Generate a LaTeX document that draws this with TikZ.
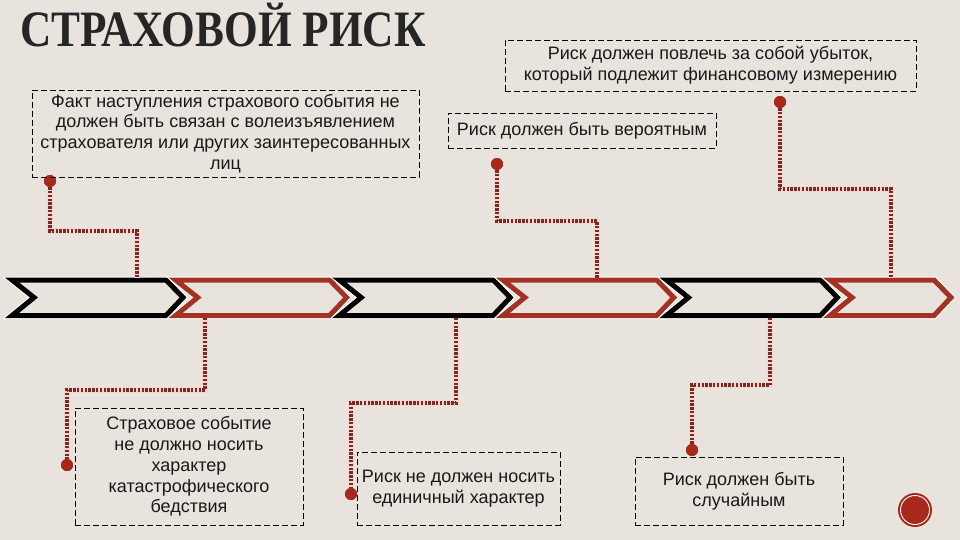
\documentclass[tikz,border=0pt]{standalone}
\usepackage{fontspec}
\setmainfont{Liberation Sans}
\newfontfamily\titlefont{Liberation Serif}
\usetikzlibrary{positioning}

\definecolor{paper}{RGB}{232,228,221}
\definecolor{arrowred}{RGB}{163,50,36}
\definecolor{pinred}{RGB}{168,40,28}
\definecolor{linkred}{RGB}{122,42,36}
\definecolor{halo}{RGB}{244,216,208}

\begin{document}
\begin{tikzpicture}[x=1pt, y=-1pt,
    note/.style={draw=black, line width=0.7pt, dash pattern=on 6pt off 3pt,
      align=center, inner sep=0pt, text=black!90,
      font=\fontsize{18}{20.8}\selectfont},
    pin/.style={circle, fill=pinred, inner sep=0pt, minimum size=12pt},
    link/.style={draw=linkred, line width=3.2pt, dash pattern=on 2.4pt off 1.4pt,
      preaction={draw=halo, line width=5.5pt, solid}},
    chev/.style={fill=paper, line width=5pt, line join=miter,
      preaction={draw=white, line width=7pt}}]

    \fill[paper] (0,0) rectangle (960,540);
    \useasboundingbox (0,0) rectangle (960,540);

    % title
    \node[anchor=base west, inner sep=0pt, text=black!85,
      font=\titlefont\bfseries\fontsize{51}{51}\selectfont] (title) at (20,47)
      {\scalebox{0.85}[1]{СТРАХОВОЙ РИСК}};

    % chevrons
    \foreach \l/\r/\c in {10/185/black, 173.6/348.6/arrowred, 337.2/512.2/black,
                          500.8/675.8/arrowred, 664.4/839.4/black, 828/953/arrowred} {
      \draw[chev, draw=\c] (\l+2,280) -- (\l+24,297.5) -- (\l+2,315.5)
        -- (\r-19,315.5) -- (\r-2,297.5) -- (\r-19,280) -- cycle;
    }

    \coordinate (c1top) at (137,277.5);
    \coordinate (c2bot) at (205,318);
    \coordinate (c3bot) at (456,318);
    \coordinate (c4top) at (597,277.5);
    \coordinate (c5bot) at (770,318);
    \coordinate (c6top) at (891,277.5);

    % pins
    \node[pin] (p1) at (50,181) {};
    \node[pin] (p2) at (67,465) {};
    \node[pin] (p3) at (497,164) {};
    \node[pin] (p4) at (351,494) {};
    \node[pin] (p5) at (780,102) {};
    \node[pin] (p6) at (692,450) {};

    % connectors
    \draw[link] (p1) -- ++(0,50) -| (c1top);
    \draw[link] (c2bot) -- ++(0,72) -| (p2);
    \draw[link] (p3) -- ++(0,57) -| (c4top);
    \draw[link] (c3bot) -- ++(0,85) -| (p4);
    \draw[link] (p5) -- ++(0,87) -| (c6top);
    \draw[link] (c5bot) -- ++(0,67) -| (p6);

    \foreach \p in {p1,p2,p3,p4,p5,p6} \node[pin] at (\p) {};

    % notes
    \node[note, minimum width=387pt, minimum height=87pt] (fact) at (225.5,133.5)
      {Факт наступления страхового события не\\должен быть связан с волеизъявлением\\страхователя или других заинтересованных\\лиц};
    \node[note, minimum width=411pt, minimum height=51pt] (loss) at (710.5,65.5)
      {Риск должен повлечь за собой убыток,\\который подлежит финансовому измерению};
    \node[note, minimum width=268pt, minimum height=35pt] (prob) at (582,130.5)
      {Риск должен быть вероятным};
    \node[note, minimum width=228pt, minimum height=117pt] (disaster) at (189,466.5)
      {Страховое событие\\не должно носить\\характер\\катастрофического\\бедствия};
    \node[note, minimum width=203pt, minimum height=73pt] (single) at (458.5,488.5)
      {Риск не должен носить\\единичный характер};
    \node[note, minimum width=208pt, minimum height=68pt] (random) at (739,491)
      {Риск должен быть\\случайным};

    % page mark
    \node[circle, fill=pinred, inner sep=0pt, minimum size=34pt] (pagemark) at (915,510) {};
    \draw[white, line width=0.9pt] (pagemark) circle[radius=14.5pt];
\end{tikzpicture}
\end{document}
